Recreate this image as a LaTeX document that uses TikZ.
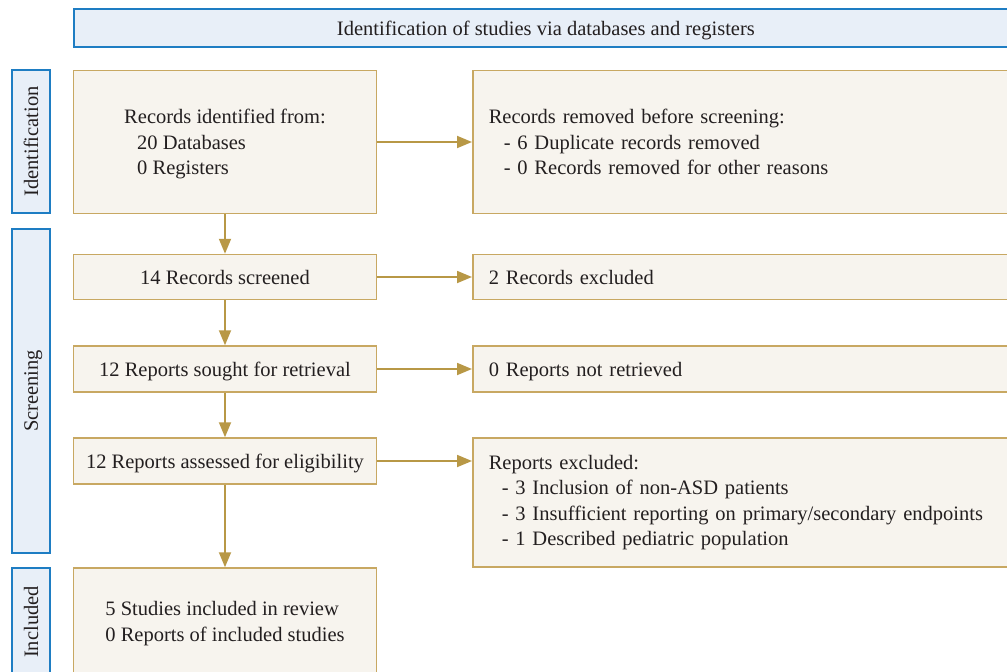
\documentclass[tikz,border=0pt]{standalone}
\usepackage{fontspec}
\setmainfont{Liberation Serif}
\usetikzlibrary{arrows.meta}
\definecolor{boxline}{RGB}{200,168,98}
\definecolor{boxfill}{RGB}{247,244,238}
\definecolor{arrowcol}{RGB}{184,152,70}
\definecolor{phaseline}{RGB}{30,125,195}
\definecolor{phasefill}{RGB}{232,239,248}
\definecolor{inktext}{RGB}{35,31,32}

\begin{document}
\begin{tikzpicture}[x=1pt, y=-1pt,
  every node/.style={font=\fontsize{20.5pt}{25.5pt}\selectfont, text=inktext},
  phase/.style={draw=phaseline, fill=phasefill, line width=1.8pt, minimum height=38pt, inner sep=0pt, text depth=0pt},
  lbox/.style={draw=boxline, fill=boxfill, line width=1.5pt, minimum width=303pt, align=left, inner sep=0pt, text depth=0pt},
  rbox/.style={draw=boxline, fill=boxfill, line width=1.5pt, text width=528pt, inner xsep=16pt, inner ysep=0pt, align=left, anchor=west},
  flow/.style={-{Triangle[length=15pt,width=12pt]}, line width=1.8pt, draw=arrowcol}]
\useasboundingbox (0,0) rectangle (1007,672);
\clip (0,0) rectangle (1007,672);

% header and phases
\node[phase, anchor=north west, minimum width=944pt] (head) at (73,8) {Identification of studies via databases and registers};
\node[phase, rotate=90, minimum width=143pt] (idph) at (31,141.5) {Identification};
\node[phase, rotate=90, minimum width=324pt] (scph) at (31,391) {Screening};
\node[phase, rotate=90, minimum width=108pt] (inph) at (31,622) {Included};

% main column
\node[lbox, minimum height=143pt] (ident) at (225,142) {Records identified from:\\\hspace*{13pt}20 Databases\\\hspace*{13pt}0 Registers};
\node[lbox, minimum height=45pt] (screen) at (225,277) {14 Records screened};
\node[lbox, minimum height=46pt] (sought) at (225,369) {12 Reports sought for retrieval};
\node[lbox, minimum height=46pt] (assess) at (225,461) {12 Reports assessed for eligibility};
\node[lbox, minimum height=107pt] (incl) at (225,621.5) {5 Studies included in review\\0 Reports of included studies};

% side column
\node[rbox, minimum height=143pt] (removed) at (472,142) {Records removed before screening:\\\hspace*{15pt}- 6 Duplicate records removed\\\hspace*{15pt}- 0 Records removed for other reasons};
\node[rbox, minimum height=45pt, text depth=0pt] (excl) at (472,277) {2 Records excluded};
\node[rbox, minimum height=46pt, text depth=0pt] (notret) at (472,369) {0 Reports not retrieved};
\node[rbox, minimum height=129pt] (repexcl) at (472,502.5) {Reports excluded:\\\hspace*{13pt}- 3 Inclusion of non-ASD patients\\\hspace*{13pt}- 3 Insufficient reporting on primary/secondary endpoints\\\hspace*{13pt}- 1 Described pediatric population};

% connectors
\path (ident) edge[flow] (screen);
\path (screen) edge[flow] (sought);
\path (sought) edge[flow] (assess);
\path (assess) edge[flow] (incl);
\path (ident) edge[flow] (removed);
\path (screen) edge[flow] (excl);
\path (sought) edge[flow] (notret);
\path (assess.east) edge[flow] (assess.east -| repexcl.west);
\end{tikzpicture}
\end{document}
